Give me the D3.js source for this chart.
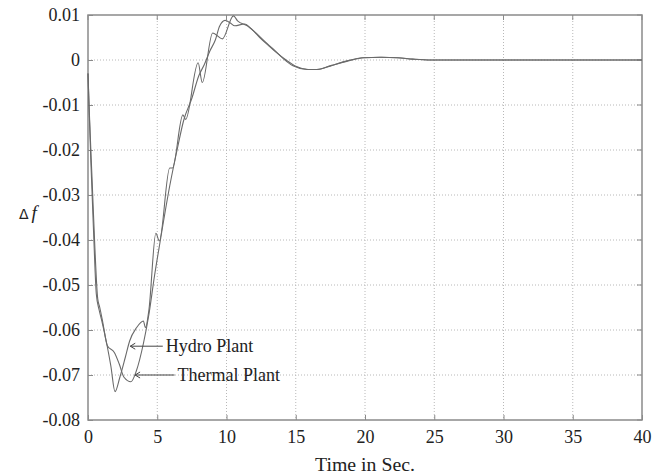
<!DOCTYPE html>
<html><head><meta charset="utf-8">
<script src="https://cdn.jsdelivr.net/npm/d3@7"></script>
<style>
body{margin:0;background:#fff;}
svg{display:block;}
</style></head>
<body>
<svg id="chart" width="661" height="476"></svg>
<script>
// ---- data ----
const xTicks = [0,5,10,15,20,25,30,35,40];
const yTicks = [0.01,0,-0.01,-0.02,-0.03,-0.04,-0.05,-0.06,-0.07,-0.08];
const yTickLabels = ["0.01","0","-0.01","-0.02","-0.03","-0.04","-0.05","-0.06","-0.07","-0.08"];

const hydroTime = [0,0.05,0.2,0.4,0.6,0.8,1.0,1.35,1.65,1.95,2.3,2.7,3.0,3.5,4.0,4.15,4.4,4.9,5.15,5.9,6.1,6.85,7.05,7.95,8.25,9.0,9.7,10.5,10.8,11.5,12.2,12.8,13.35,14.1,14.8,15.8,16.5,17.5,18.7,19.8,21.1,22.3,23.4,24.7,27,30,35,40];
const hydroDf = [-0.003,-0.008,-0.022,-0.038,-0.052,-0.0555,-0.058,-0.063,-0.068,-0.0737,-0.0705,-0.066,-0.0625,-0.0595,-0.058,-0.0595,-0.0555,-0.0385,-0.0402,-0.024,-0.024,-0.0122,-0.0132,-0.0006,-0.005,0.006,0.0047,0.0098,0.0087,0.0076,0.0058,0.0040,0.0025,0.0003,-0.0013,-0.0021,-0.0021,-0.0013,-0.0002,0.0005,0.0006,0.0005,0.0002,0,0,0,0,0];

const thermalTime = [0,0.1,0.3,0.5,0.7,0.85,1.05,1.4,1.9,2.25,2.6,3.1,3.5,4.0,4.4,4.8,5.2,5.9,6.5,6.9,7.5,8.0,8.4,8.8,9.2,9.5,9.9,10.25,10.6,11.3,11.8,12.4,13.0,13.55,14.3,15.0,15.9,16.6,17.6,18.8,19.9,21.2,22.4,23.5,24.8,27,30,35,40];
const thermalDf = [-0.003,-0.012,-0.027,-0.042,-0.053,-0.055,-0.058,-0.0635,-0.065,-0.0675,-0.0705,-0.0715,-0.069,-0.063,-0.0565,-0.048,-0.0405,-0.028,-0.019,-0.0135,-0.0085,-0.0035,-0.001,0.002,0.0045,0.0075,0.0088,0.0083,0.0076,0.0080,0.0069,0.0050,0.0033,0.0018,0.0,-0.0014,-0.0021,-0.0021,-0.0012,-0.0002,0.0005,0.0006,0.0005,0.0002,0,0,0,0,0];

const annotations = [
  {label:"Hydro Plant", t:3.05, v:-0.0636, tx:5.4},
  {label:"Thermal Plant", t:3.4, v:-0.0700, tx:6.25}
];

// ---- chart ----
const SERIF = "Liberation Serif";
const svg = d3.select("#chart");
const m = {left:88, top:15, right:19, bottom:56};
const W = 661 - m.left - m.right, H = 476 - m.top - m.bottom;
const g = svg.append("g").attr("transform",`translate(${m.left},${m.top})`);
const x = d3.scaleLinear().domain([0,40]).range([0,W]);
const y = d3.scaleLinear().domain([-0.08,0.01]).range([H,0]);

const gridColor = "#b8b8b8", frameColor = "#8a8a8a";

// grid
g.append("g").selectAll("line").data(xTicks.slice(1,-1)).join("line")
  .attr("x1",d=>x(d)).attr("x2",d=>x(d)).attr("y1",0).attr("y2",H)
  .attr("stroke",gridColor).attr("stroke-dasharray","1,2").attr("stroke-width",1);
g.append("g").selectAll("line").data(yTicks.slice(1,-1)).join("line")
  .attr("y1",d=>y(d)).attr("y2",d=>y(d)).attr("x1",0).attr("x2",W)
  .attr("stroke",gridColor).attr("stroke-dasharray","1,2").attr("stroke-width",1);

// axes
const xAxis = d3.axisBottom(x).tickValues(xTicks).tickSize(-5).tickPadding(10).tickFormat(d3.format("d"));
const yAxis = d3.axisLeft(y).tickValues(yTicks).tickSize(-5).tickPadding(8).tickFormat((d,i)=>yTickLabels[i]);
const xa = g.append("g").attr("transform",`translate(0,${H})`).call(xAxis);
const ya = g.append("g").call(yAxis);
[xa,ya].forEach(a=>{
  a.attr("font-family",SERIF).attr("font-size",18);
  a.select(".domain").remove();
  a.selectAll(".tick line").attr("stroke",frameColor).attr("stroke-width",1);
  a.selectAll("text").attr("fill","#222").attr("font-family",SERIF).attr("font-size",18);
});
// top/right ticks
g.append("g").selectAll("line").data(xTicks).join("line")
  .attr("x1",d=>x(d)).attr("x2",d=>x(d)).attr("y1",0).attr("y2",5).attr("stroke",frameColor);
g.append("g").selectAll("line").data(yTicks).join("line")
  .attr("y1",d=>y(d)).attr("y2",d=>y(d)).attr("x1",W).attr("x2",W-5).attr("stroke",frameColor);

// frame
g.append("rect").attr("x",0).attr("y",0).attr("width",W).attr("height",H)
  .attr("fill","none").attr("stroke",frameColor).attr("stroke-width",1.5);

// series
const line = d3.line().x(d=>x(d[0])).y(d=>y(d[1])).curve(d3.curveMonotoneX);
const hydro = hydroTime.map((t,i)=>[t,hydroDf[i]]);
const thermal = thermalTime.map((t,i)=>[t,thermalDf[i]]);
[thermal,hydro].forEach(s=>{
  g.append("path").datum(s).attr("d",line).attr("fill","none")
    .attr("stroke","#6a6a6a").attr("stroke-width",1.1);
});

// annotations
annotations.forEach(a=>{
  const x0 = x(a.t), y0 = y(a.v), x1 = x(a.tx);
  g.append("line").attr("x1",x0).attr("y1",y0).attr("x2",x1).attr("y2",y0)
    .attr("stroke","#444").attr("stroke-width",1);
  g.append("path").attr("d",`M${x0+5},${y0-3}L${x0},${y0}L${x0+5},${y0+3}`)
    .attr("fill","none").attr("stroke","#444").attr("stroke-width",1);
  g.append("text").attr("x",x1+3).attr("y",y0+6).text(a.label)
    .attr("fill","#222").attr("font-family",SERIF).attr("font-size",18);
});

// axis labels
svg.append("text").attr("x",m.left+W/2).attr("y",471).attr("text-anchor","middle")
  .attr("fill","#222").attr("font-family",SERIF).attr("font-size",18)
  .attr("textLength",100).attr("lengthAdjust","spacingAndGlyphs").text("Time in Sec.");
const yl = svg.append("text").attr("x",19).attr("y",219).attr("fill","#222").attr("font-family",SERIF);
yl.append("tspan").attr("font-size",14).attr("font-family","DejaVu Sans").text("\u0394");
yl.append("tspan").attr("dx",3).attr("font-size",19).attr("font-style","italic").text("f");
</script>
</body></html>
